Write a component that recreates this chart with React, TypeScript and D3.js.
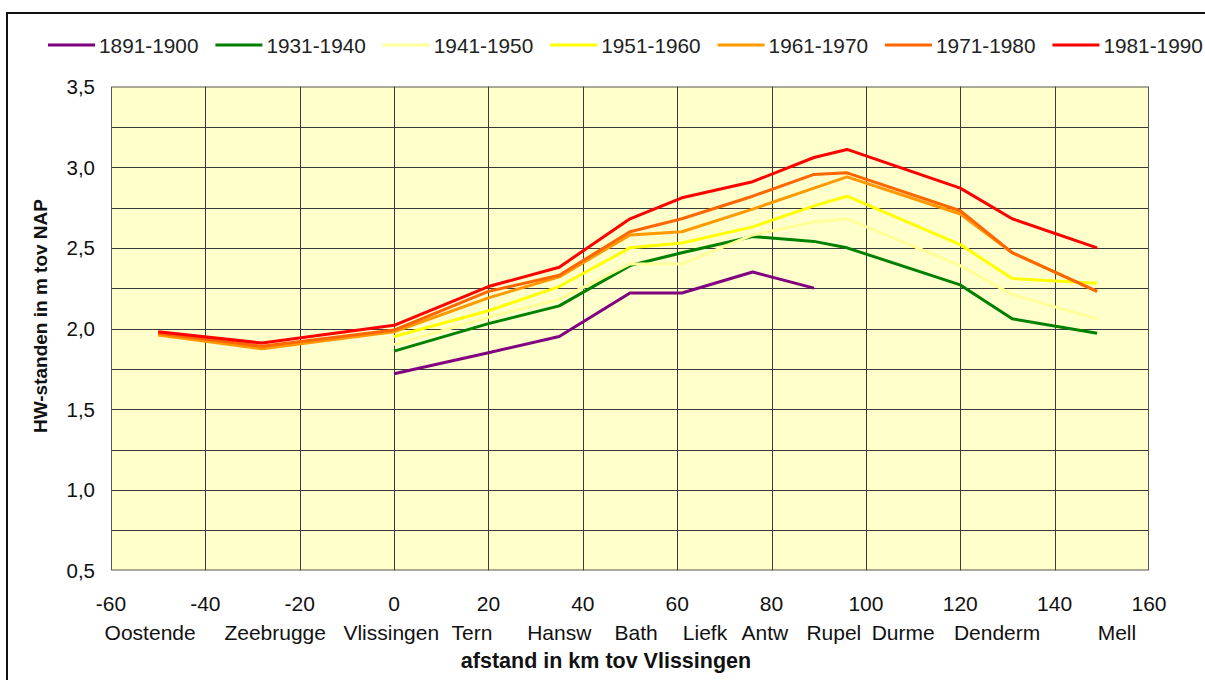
import React from "react";
import * as d3 from "d3";

const km: number[] = [-50, -28, 0, 20, 35, 50, 61, 76, 89, 96, 120, 131, 149];
const s1891: (number | null)[] = [null, null, 1.72, 1.85, 1.95, 2.22, 2.22, 2.35, 2.25, null, null, null, null];
const s1931: (number | null)[] = [null, null, 1.86, 2.03, 2.14, 2.39, 2.47, 2.57, 2.54, 2.5, 2.27, 2.06, 1.97];
const s1941: (number | null)[] = [null, null, 1.9, 2.07, 2.18, 2.4, 2.4, 2.58, 2.66, 2.68, 2.39, 2.21, 2.06];
const s1951: (number | null)[] = [null, null, 1.95, 2.11, 2.26, 2.5, 2.53, 2.63, 2.76, 2.82, 2.52, 2.31, 2.28];
const s1961: (number | null)[] = [1.96, 1.875, 1.98, 2.19, 2.32, 2.58, 2.6, 2.74, 2.87, 2.94, 2.71, 2.47, 2.23];
const s1971: (number | null)[] = [1.97, 1.89, 1.99, 2.23, 2.33, 2.6, 2.68, 2.82, 2.955, 2.965, 2.73, 2.47, 2.23];
const s1981: (number | null)[] = [1.98, 1.91, 2.02, 2.26, 2.38, 2.68, 2.81, 2.91, 3.06, 3.11, 2.87, 2.68, 2.5];

const seriesNames = ["1891-1900", "1931-1940", "1941-1950", "1951-1960", "1961-1970", "1971-1980", "1981-1990"];
const seriesValues = [s1891, s1931, s1941, s1951, s1961, s1971, s1981];
const seriesColors = ["#800080", "#008000", "#FFFF99", "#FFFF00", "#FF9900", "#FF6600", "#FF0000"];

const xTicks = [-60, -40, -20, 0, 20, 40, 60, 80, 100, 120, 140, 160];
const yLabelTicks = [0.5, 1.0, 1.5, 2.0, 2.5, 3.0, 3.5];
const yGridTicks = [0.75, 1.0, 1.25, 1.5, 1.75, 2.0, 2.25, 2.5, 2.75, 3.0, 3.25];
const placeNames = ["Oostende", "Zeebrugge", "Vlissingen", "Tern", "Hansw", "Bath", "Liefk", "Antw", "Rupel", "Durme", "Denderm", "Mell"];
const placeKm = [-51.7, -25.2, -0.6, 16.5, 35, 51.3, 65.9, 78.6, 93.2, 107.9, 127.8, 153.2];

const FONT = "'Liberation Sans', Arial, Helvetica, sans-serif";

export default function App() {
  const W = 1205, H = 680;
  const left = 111, right = 1149, top = 86.5, bottom = 570.5;
  const x = d3.scaleLinear().domain([-60, 160]).range([left, right]);
  const y = d3.scaleLinear().domain([0.5, 3.5]).range([bottom, top]);
  const fmt = (v: number) => d3.format(".1f")(v).replace(".", ",");

  const line = d3
    .line<[number, number | null]>()
    .defined((d) => d[1] !== null)
    .x((d) => x(d[0]))
    .y((d) => y(d[1] as number));

  return (
    <svg width={W} height={H} style={{ position: "absolute", left: 0, top: 0, background: "#fff" }} fontFamily={FONT}>
      <rect x={7} y={13} width={1400} height={900} fill="none" stroke="#111" strokeWidth={2} />
      {/* legend */}
      {seriesNames.map((n, i) => {
        const lx = 48 + i * 167.4;
        return (
          <g key={n}>
            <line x1={lx} x2={lx + 47} y1={45} y2={45} stroke={seriesColors[i]} strokeWidth={3} />
            <text x={lx + 51} y={45} dominantBaseline="central" fontSize={20.8} fill="#222">{n}</text>
          </g>
        );
      })}
      {/* plot area */}
      <rect x={left} y={top} width={right - left} height={bottom - top} fill="#FFFFCC" />
      {yGridTicks.map((t) => (
        <line key={"gy" + t} x1={left} x2={right} y1={Math.round(y(t)) + 0.5} y2={Math.round(y(t)) + 0.5} stroke="#3a3a3a" strokeWidth={1} />
      ))}
      {xTicks.slice(1, -1).map((t) => (
        <line key={"gx" + t} y1={top} y2={bottom} x1={Math.round(x(t)) + 0.5} x2={Math.round(x(t)) + 0.5} stroke="#3a3a3a" strokeWidth={1} />
      ))}
      <rect x={left + 0.5} y={top + 0.5} width={right - left - 1} height={bottom - top - 1} fill="none" stroke="#555" strokeWidth={1} />
      {/* series */}
      {seriesValues.map((vals, i) => (
        <path
          key={seriesNames[i]}
          d={line(km.map((k, j) => [k, vals[j]] as [number, number | null])) || ""}
          fill="none"
          stroke={seriesColors[i]}
          strokeWidth={3}
          strokeLinejoin="round"
        />
      ))}
      {/* y labels */}
      {yLabelTicks.map((t) => (
        <text key={"yl" + t} x={95} y={y(t)} textAnchor="end" dominantBaseline="central" fontSize={20.5} fill="#111">
          {fmt(t)}
        </text>
      ))}
      {/* x labels */}
      {xTicks.map((t) => (
        <text key={"xl" + t} x={x(t)} y={603} textAnchor="middle" dominantBaseline="central" fontSize={21} fill="#111">
          {t}
        </text>
      ))}
      {placeNames.map((p, i) => (
        <text key={p} x={x(placeKm[i])} y={632} textAnchor="middle" dominantBaseline="central" fontSize={21} fill="#111">
          {p}
        </text>
      ))}
      <text x={606} y={661} textAnchor="middle" dominantBaseline="central" fontSize={21.5} fontWeight="bold" fill="#111">
        afstand in km tov Vlissingen
      </text>
      <text
        transform={`translate(40,${316}) rotate(-90)`}
        textAnchor="middle"
        dominantBaseline="central"
        fontSize={19}
        fontWeight="bold"
        fill="#111"
      >
        HW-standen in m tov NAP
      </text>
    </svg>
  );
}
